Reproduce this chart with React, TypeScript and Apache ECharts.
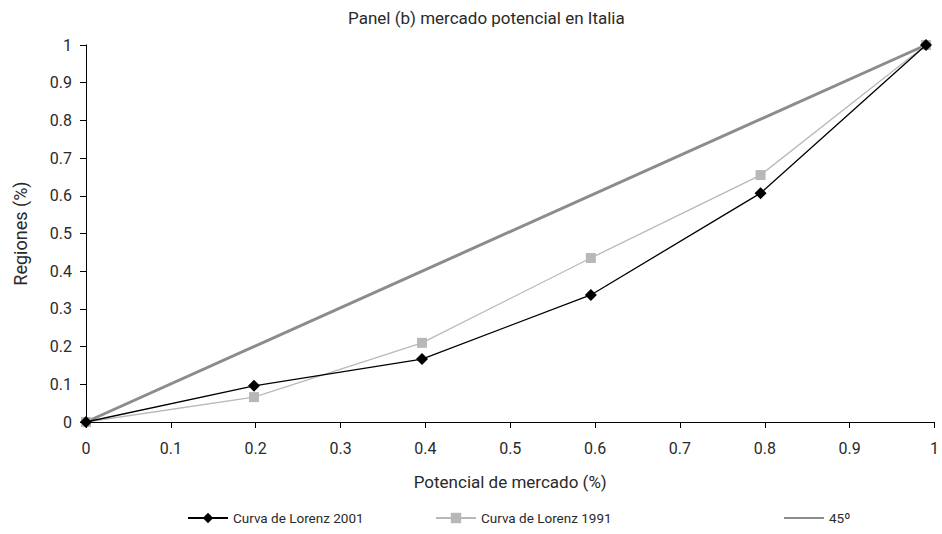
import React, { useEffect, useRef } from "react";
import * as echarts from "echarts";

const xValues = [0, 0.198, 0.396, 0.595, 0.795, 0.99];
const lorenz2001 = [0, 0.096, 0.167, 0.337, 0.607, 1];
const lorenz1991 = [0, 0.066, 0.21, 0.435, 0.655, 1];
const diagonalX = [0, 0.99];
const diagonalY = [0, 1];
const xTicks = [0, 0.1, 0.2, 0.3, 0.4, 0.5, 0.6, 0.7, 0.8, 0.9, 1];
const seriesNames = ["Curva de Lorenz 2001", "Curva de Lorenz 1991", "45º"];

const FONT = "Roboto, 'Noto Sans', sans-serif";
const TXT = "#2a2a2a";

export default function App() {
  const ref = useRef<HTMLDivElement>(null);
  useEffect(() => {
    if (!ref.current) return;
    const chart = echarts.init(ref.current, undefined, { renderer: "svg" });
    const pair = (xs: number[], ys: number[]) => xs.map((x, i) => [x, ys[i]]);
    const legendBase = {
      top: 506,
      itemWidth: 40,
      itemHeight: 13,
      itemGap: 5,
      textStyle: { fontFamily: FONT, fontSize: 13.5, color: TXT },
    };
    chart.setOption({
      animation: false,
      backgroundColor: "#ffffff",
      textStyle: { fontFamily: FONT, color: TXT },
      title: {
        text: "Panel (b) mercado potencial en Italia",
        left: 343,
        top: 4,
        textStyle: { fontFamily: FONT, fontSize: 17, fontWeight: "normal", color: TXT },
      },
      grid: { left: 86, right: 7, top: 45, bottom: 112, containLabel: false },
      xAxis: {
        type: "value",
        min: 0,
        max: 1,
        interval: 0.1,
        name: "Potencial de mercado (%)",
        nameLocation: "middle",
        nameGap: 51,
        nameTextStyle: { fontFamily: FONT, fontSize: 17, color: TXT },
        axisLine: { show: true, onZero: false, lineStyle: { color: "#000", width: 1 } },
        axisTick: { show: true, length: 6, lineStyle: { color: "#000" } },
        axisLabel: {
          fontFamily: FONT,
          fontSize: 16,
          color: TXT,
          margin: 18,
          formatter: (v: number) => {
            const t = xTicks.find((k) => Math.abs(k - v) < 1e-6);
            return t === undefined ? "" : String(t);
          },
        },
        splitLine: { show: false },
      },
      yAxis: {
        type: "value",
        min: 0,
        max: 1,
        interval: 0.1,
        name: "Regiones (%)",
        nameLocation: "middle",
        nameGap: 57,
        nameRotate: 90,
        nameTextStyle: { fontFamily: FONT, fontSize: 18, color: TXT },
        axisLine: { show: true, lineStyle: { color: "#000", width: 1 } },
        axisTick: { show: true, length: 6, lineStyle: { color: "#000" } },
        axisLabel: {
          fontFamily: FONT,
          fontSize: 16,
          color: TXT,
          margin: 14,
          formatter: (v: number) => String(Math.round(v * 10) / 10),
        },
        splitLine: { show: false },
      },
      legend: [
        { ...legendBase, left: 182, data: [seriesNames[0]] },
        { ...legendBase, left: 430, data: [seriesNames[1]] },
        { ...legendBase, left: 778, data: [{ name: seriesNames[2], itemStyle: { opacity: 0 } }] },
      ],
      series: [
        {
          name: seriesNames[2],
          type: "line",
          data: pair(diagonalX, diagonalY),
          showSymbol: false,
          symbol: "none",
          z: 1,
          lineStyle: { color: "#8c8c8c", width: 3 },
          itemStyle: { color: "#8c8c8c" },
        },
        {
          name: seriesNames[1],
          type: "line",
          data: pair(xValues, lorenz1991),
          symbol: "rect",
          symbolSize: 10,
          z: 2,
          lineStyle: { color: "#b8b8b8", width: 1.3 },
          itemStyle: { color: "#b8b8b8" },
        },
        {
          name: seriesNames[0],
          type: "line",
          data: pair(xValues, lorenz2001),
          symbol: "diamond",
          symbolSize: 12,
          z: 3,
          lineStyle: { color: "#000000", width: 1.3 },
          itemStyle: { color: "#000000" },
        },
      ],
    });
    return () => chart.dispose();
  }, []);
  return (
    <div
      ref={ref}
      style={{ position: "fixed", left: 0, top: 0, width: 942, height: 534 }}
    />
  );
}
